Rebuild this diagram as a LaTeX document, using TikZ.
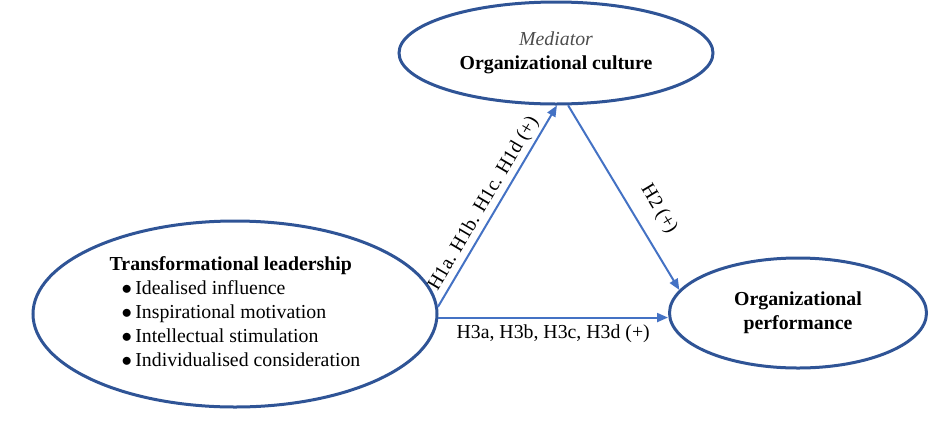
\documentclass[tikz,border=0pt]{standalone}
\usepackage{fontspec}
\setmainfont{Liberation Serif}
\usetikzlibrary{shapes.geometric,arrows.meta}
\definecolor{ellblue}{HTML}{2F5496}
\definecolor{arrblue}{HTML}{4472C4}
\begin{document}
\begin{tikzpicture}[x=1pt,y=-1pt,
  construct/.style={ellipse, draw=ellblue, line width=3pt, inner sep=0pt, align=center,
     font=\fontsize{19.8}{24}\selectfont},
  link/.style={draw=arrblue, line width=2pt, -{Triangle[length=11pt,width=9pt]}},
  lab/.style={font=\fontsize{19.8}{22}\selectfont, inner sep=2pt}]
\useasboundingbox (0,0) rectangle (941,437);
\node[construct, minimum width=314pt, minimum height=102pt] (med) at (556,53)
  {{\itshape\color{black!70}Mediator}\\\textbf{Organizational culture}};
\node[construct, minimum width=404pt, minimum height=186pt] (tl) at (235,314)
  {\begin{tabular}{@{}l@{}}
   \textbf{Transformational leadership}\\[0pt]
   \hspace{12pt}$\bullet$\,Idealised influence\\[0pt]
   \hspace{12pt}$\bullet$\,Inspirational motivation\\[0pt]
   \hspace{12pt}$\bullet$\,Intellectual stimulation\\[0pt]
   \hspace{12pt}$\bullet$\,Individualised consideration
   \end{tabular}};
\node[construct, minimum width=257pt, minimum height=110pt] (op) at (798,313)
  {\textbf{Organizational}\\\textbf{performance}};
\draw[link] (tl.2.3) -- node[lab, sloped, above=1pt, pos=0.48] {H1a. H1b. H1c. H1d (+)} (med.-89.5);
\draw[link] (med.-77) -- node[lab, sloped, above=12pt, pos=0.63] {H2 (+)} (op.169);
\coordinate (h3s) at (tl.-1.2);
\draw[link] (h3s) -- node[lab, below=4pt] {H3a, H3b, H3c, H3d (+)} (h3s -| op.west);
\end{tikzpicture}
\end{document}
